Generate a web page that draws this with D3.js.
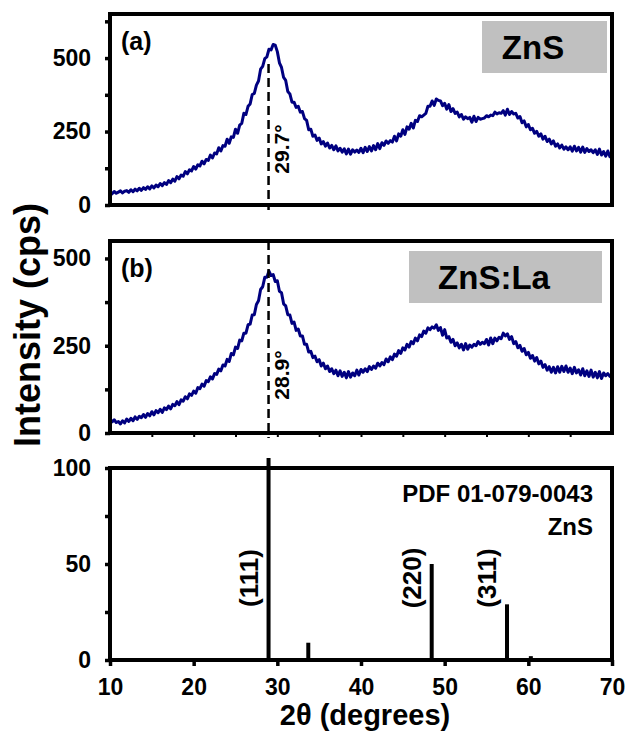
<!DOCTYPE html>
<html>
<head>
<meta charset="utf-8">
<script src="https://cdn.jsdelivr.net/npm/d3@7"></script>
<style>
  body { margin: 0; background: #fff; }
  text { font-family: "Liberation Sans", Arial, sans-serif; font-weight: bold; fill: #000; }
</style>
</head>
<body>
<svg id="chart" width="628" height="732"></svg>
<script>
// 2theta sampling of the scans: 10 to 70 degrees, every 0.25 degree
var angleStart = 10, angleStep = 0.25;

// (a) ZnS, counts per second (one row = 5 degrees)
var znsCounts = [
  42, 38, 46, 40, 44, 48, 41, 47, 49, 43, 52, 45, 54, 48, 57, 50, 59, 53, 62, 55,
  65, 58, 68, 62, 73, 66, 76, 70, 83, 76, 88, 81, 97, 89, 102, 98, 114, 106, 120, 116,
  131, 122, 137, 133, 149, 140, 155, 152, 170, 160, 177, 174, 195, 184, 202, 200, 224, 210, 232, 230,
  258, 244, 272, 278, 312, 308, 336, 344, 376, 380, 408, 422, 462, 472, 498, 504, 530, 528, 546, 544,
  522, 484, 468, 434, 424, 386, 378, 350, 350, 332, 336, 316, 318, 294, 288, 256, 258, 234, 238, 220,
  228, 208, 216, 200, 211, 194, 203, 188, 201, 184, 193, 180, 191, 174, 190, 173, 188, 180, 187, 179,
  193, 178, 196, 182, 199, 184, 202, 188, 209, 192, 212, 203, 218, 210, 219, 214, 234, 218, 242, 234,
  256, 240, 266, 258, 278, 262, 288, 284, 304, 300, 306, 312, 336, 336, 354, 339, 361, 356, 354, 338,
  346, 326, 342, 318, 328, 312, 316, 300, 308, 292, 300, 294, 298, 282, 302, 284, 298, 292, 294, 296,
  304, 300, 306, 304, 316, 310, 314, 312, 321, 306, 326, 308, 318, 310, 312, 296, 301, 280, 286, 266,
  274, 256, 261, 244, 251, 234, 242, 224, 234, 216, 224, 208, 218, 200, 208, 194, 204, 190, 198, 188,
  198, 183, 200, 184, 196, 180, 197, 179, 192, 182, 188, 178, 188, 172, 190, 170, 182, 166, 184, 164,
  170
];

// (b) ZnS:La, counts per second (one row = 5 degrees)
var znsLaCounts = [
  40, 32, 38, 30, 33, 26, 35, 29, 40, 33, 42, 35, 46, 39, 48, 44, 53, 45, 56, 49,
  61, 52, 64, 58, 68, 59, 72, 67, 77, 69, 82, 78, 90, 81, 95, 91, 104, 98, 112, 108,
  120, 114, 130, 127, 140, 134, 150, 147, 161, 155, 170, 168, 183, 178, 195, 192, 211, 205, 228, 224,
  246, 242, 266, 264, 286, 286, 310, 312, 338, 339, 368, 379, 411, 419, 446, 446, 464, 451, 454, 434,
  436, 406, 402, 370, 364, 339, 338, 314, 318, 294, 298, 278, 278, 254, 254, 232, 234, 216, 220, 204,
  210, 192, 200, 184, 192, 176, 184, 170, 180, 164, 178, 162, 174, 158, 176, 160, 172, 164, 180, 166,
  182, 174, 184, 176, 190, 182, 192, 186, 200, 192, 202, 196, 212, 204, 218, 210, 226, 220, 236, 228,
  244, 238, 254, 246, 262, 256, 272, 264, 281, 276, 292, 286, 301, 296, 304, 300, 310, 294, 302, 280,
  296, 272, 276, 260, 268, 250, 258, 244, 254, 238, 256, 240, 252, 246, 254, 250, 262, 254, 260, 256,
  268, 252, 272, 256, 272, 264, 274, 270, 286, 278, 284, 268, 276, 256, 262, 244, 251, 234, 242, 224,
  231, 214, 222, 206, 216, 198, 206, 188, 196, 180, 190, 174, 188, 172, 190, 174, 191, 176, 192, 174,
  186, 170, 188, 172, 181, 166, 184, 164, 178, 162, 180, 160, 174, 158, 176, 156, 172, 164, 170, 162,
  167
];

// (c) reference pattern PDF 01-079-0043
var stickAngles = [28.95, 33.7, 48.45, 57.45, 60.3];
var stickHeights = [100, 9, 50, 29, 2];
var stickLabels = ["(111)", "", "(220)", "(311)", ""];

var xTicks = [10, 20, 30, 40, 50, 60, 70];
var xMinorTicks = [15, 20, 25, 30, 35, 40, 45, 50, 55, 60, 65];
var peakAngle = 28.95;
var peakLabels = ["29.7°", "28.9°"];

var panels = [
  { top: 14,  bottom: 205, max: 650, ticks: [0, 250, 500], minor: [125, 375, 625], counts: znsCounts,   tag: "(a)", name: "ZnS" },
  { top: 241, bottom: 433, max: 550, ticks: [0, 250, 500], minor: [125, 375],      counts: znsLaCounts, tag: "(b)", name: "ZnS:La" },
  { top: 468, bottom: 660, max: 100, ticks: [0, 50, 100],  minor: [25, 75] }
];

var svg = d3.select("#chart");
var left = 110, right = 612;

var x = d3.scaleLinear().domain([10, 70]).range([left, right]);

panels.forEach(function (p, i) {
  p.y = d3.scaleLinear().domain([0, p.max]).range([p.bottom, p.top]);
  var g = svg.append("g");

  var yAxis = d3.axisLeft(p.y)
    .tickValues(p.ticks.concat(p.minor))
    .tickSize(5)
    .tickPadding(14)
    .tickFormat(function (d) { return p.ticks.indexOf(d) >= 0 ? d : ""; });
  var ya = g.append("g").attr("transform", "translate(" + left + ",0)").call(yAxis);
  ya.select(".domain").remove();
  ya.selectAll("line").attr("stroke-width", 3.5);
  ya.selectAll("text").style("font-size", "23px").attr("font-family", null);

  if (p.counts) {
    var pts = p.counts.map(function (c, k) { return [angleStart + k * angleStep, c]; });
    var line = d3.line()
      .x(function (d) { return x(d[0]); })
      .y(function (d) { return p.y(d[1]); });
    g.append("path")
      .datum(pts)
      .attr("fill", "none")
      .attr("stroke", "#000080")
      .attr("stroke-width", 3)
      .attr("stroke-linejoin", "round")
      .attr("d", line);

    // dashed guide through the (111) peak
    g.append("line")
      .attr("x1", x(peakAngle)).attr("x2", x(peakAngle))
      .attr("y1", i === 0 ? p.y(480) : p.top).attr("y2", p.bottom + 5)
      .attr("stroke", "#000").attr("stroke-width", 2.5)
      .attr("stroke-dasharray", "9,5");

    g.append("text")
      .attr("transform", "translate(" + (x(peakAngle) + 13) + "," + (i === 0 ? 149 : 375) + ") rotate(-90)")
      .attr("text-anchor", "middle")
      .attr("dominant-baseline", "central")
      .style("font-size", "21px")
      .text(peakLabels[i]);

    g.append("text")
      .attr("x", 121).attr("y", p.top + 27)
      .attr("dominant-baseline", "central")
      .style("font-size", "25px")
      .text(p.tag);

    var bw = i === 0 ? 125 : 193;
    g.append("rect")
      .attr("x", (i === 0 ? 607 : 602) - bw).attr("y", p.top + (i === 0 ? 7 : 10))
      .attr("width", bw).attr("height", 52)
      .attr("fill", "#c0c0c0");
    g.append("text")
      .attr("x", i === 0 ? 533 : 494).attr("y", p.top + (i === 0 ? 33 : 36))
      .attr("text-anchor", "middle")
      .attr("dominant-baseline", "central")
      .style("font-size", "33px")
      .text(p.name);
  }

  if (i === 1) {
    var xb = g.append("g").attr("transform", "translate(0," + p.bottom + ")")
      .call(d3.axisBottom(x).tickValues(xMinorTicks).tickSize(4).tickFormat(""));
    xb.select(".domain").remove();
    xb.selectAll("line").attr("stroke-width", 2);
  }

  if (i === 2) {
    var xa = g.append("g").attr("transform", "translate(0," + p.bottom + ")")
      .call(d3.axisBottom(x).tickValues(xTicks).tickSize(6).tickPadding(13));
    xa.select(".domain").remove();
    xa.selectAll("line").attr("stroke-width", 3.5);
    xa.selectAll("text").style("font-size", "23px").attr("font-family", null);

    g.selectAll(".stick")
      .data(stickAngles)
      .enter().append("line")
      .attr("class", "stick")
      .attr("x1", function (d) { return x(d); })
      .attr("x2", function (d) { return x(d); })
      .attr("y1", p.y(0))
      .attr("y2", function (d, k) { return p.y(stickHeights[k]) - (stickHeights[k] === 100 ? 10 : 0); })
      .attr("stroke", "#000")
      .attr("stroke-width", 4);

    g.selectAll(".hkl")
      .data(stickAngles)
      .enter().append("text")
      .attr("class", "hkl")
      .attr("transform", function (d) { return "translate(" + (x(d) - 20) + ",578) rotate(-90)"; })
      .attr("text-anchor", "middle")
      .attr("dominant-baseline", "central")
      .style("font-size", "26px")
      .text(function (d, k) { return stickLabels[k]; });

    g.append("text")
      .attr("x", 593).attr("y", 502)
      .attr("text-anchor", "end")
      .style("font-size", "24px")
      .text("PDF 01-079-0043");
    g.append("text")
      .attr("x", 593).attr("y", 535)
      .attr("text-anchor", "end")
      .style("font-size", "24px")
      .text("ZnS");
  }

  g.append("rect")
    .attr("x", left).attr("y", p.top)
    .attr("width", right - left).attr("height", p.bottom - p.top)
    .attr("fill", "none")
    .attr("stroke", "#000")
    .attr("stroke-width", 4);
});

svg.append("text")
  .attr("transform", "translate(27,325) rotate(-90)")
  .attr("text-anchor", "middle")
  .attr("dominant-baseline", "central")
  .style("font-size", "36px")
  .text("Intensity (cps)");

svg.append("text")
  .attr("x", 365).attr("y", 725)
  .attr("text-anchor", "middle")
  .style("font-size", "29px")
  .text("2θ (degrees)");
</script>
</body>
</html>
